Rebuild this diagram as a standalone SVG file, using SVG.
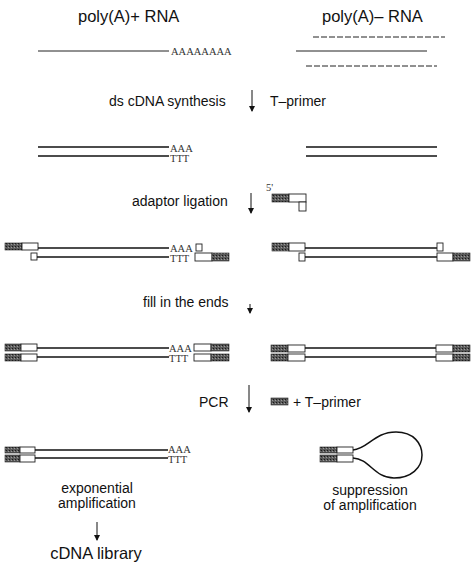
<svg xmlns="http://www.w3.org/2000/svg" width="474" height="566" viewBox="0 0 474 566">
<defs>
<pattern id="hatch" width="3" height="3" patternUnits="userSpaceOnUse">
<rect width="3" height="3" fill="#5a5a5a"/>
<rect width="1" height="1" fill="#1a1a1a"/>
<rect x="2" y="1" width="1" height="1" fill="#999"/>
</pattern>
<marker id="ah" markerWidth="6" markerHeight="6" refX="5" refY="3" orient="auto" markerUnits="userSpaceOnUse" viewBox="0 0 6 6">
<path d="M0,0 L6,3 L0,6 z" fill="#111"/>
</marker>
</defs>
<style>
.h{font-family:"Liberation Sans",Arial,sans-serif;font-size:16.5px;fill:#111}
.t{font-family:"Liberation Sans",Arial,sans-serif;font-size:14px;fill:#111}
.s{font-family:"Liberation Serif","Times New Roman",serif;font-size:10.5px;fill:#333}
.ln{stroke:#111;stroke-width:1.5;fill:none}
.th{stroke:#222;stroke-width:1;fill:none}
.dk{fill:url(#hatch);stroke:#222;stroke-width:0.6}
.wh{fill:#fff;stroke:#222;stroke-width:0.9}
.ar{stroke:#111;stroke-width:1;fill:none;marker-end:url(#ah)}
</style>
<rect width="474" height="566" fill="#fff"/>

<g id="titles">
<text class="h" x="78" y="22">poly(A)+ RNA</text>
<text class="h" x="322" y="22">poly(A)– RNA</text>
</g>

<g id="rna">
<line class="th" x1="38" y1="51" x2="169" y2="51"/>
<text class="s" x="171" y="55">AAAAAAAA</text>
<line class="th" x1="313" y1="37" x2="445" y2="37" stroke-dasharray="6 2"/>
<line class="th" x1="296" y1="51" x2="427" y2="51"/>
<line class="th" x1="306" y1="66" x2="437" y2="66" stroke-dasharray="6 2"/>
</g>

<g id="step1">
<text class="t" x="109" y="106">ds cDNA synthesis</text>
<text class="t" x="270" y="106">T–primer</text>
</g>

<g id="ds">
<line class="ln" x1="38" y1="147" x2="169" y2="147"/>
<line class="ln" x1="38" y1="156" x2="169" y2="156"/>
<text class="s" x="170" y="152">AAA</text>
<text class="s" x="170" y="162">TTT</text>
<line class="ln" x1="306" y1="147" x2="437" y2="147"/>
<line class="ln" x1="306" y1="156" x2="437" y2="156"/>
</g>

<g id="step2">
<text class="t" x="132" y="206">adaptor ligation</text>
<text class="s" x="266" y="191" font-size="11">5'</text>
<rect class="dk" x="272" y="194" width="17" height="8"/>
<rect class="wh" x="289" y="194" width="17" height="8"/>
<rect class="wh" x="299" y="202" width="7" height="9"/>
</g>

<g id="ligated">
<rect class="dk" x="5" y="243" width="17" height="7"/>
<rect class="wh" x="22" y="243" width="16" height="7"/>
<rect class="wh" x="31" y="253" width="6" height="7"/>
<line class="ln" x1="38" y1="248" x2="169" y2="248"/>
<line class="ln" x1="37" y1="257" x2="169" y2="257"/>
<text class="s" x="170" y="252">AAA</text>
<text class="s" x="170" y="262">TTT</text>
<rect class="wh" x="196" y="244" width="6" height="7"/>
<rect class="wh" x="195" y="253" width="17" height="8"/>
<rect class="dk" x="212" y="253" width="17" height="8"/>

<rect class="dk" x="272" y="243" width="17" height="8"/>
<rect class="wh" x="289" y="243" width="16" height="8"/>
<rect class="wh" x="299" y="253" width="6" height="8"/>
<line class="ln" x1="305" y1="248" x2="437" y2="248"/>
<line class="ln" x1="305" y1="257" x2="437" y2="257"/>
<rect class="wh" x="437" y="243" width="6" height="8"/>
<rect class="wh" x="437" y="253" width="16" height="8"/>
<rect class="dk" x="453" y="253" width="17" height="8"/>
</g>

<g id="step3">
<text class="t" x="143" y="307">fill in the ends</text>
</g>

<g id="filled">
<rect class="dk" x="5" y="344" width="16" height="7"/>
<rect class="wh" x="21" y="344" width="16" height="7"/>
<rect class="dk" x="5" y="354" width="16" height="7"/>
<rect class="wh" x="21" y="354" width="16" height="7"/>
<line class="ln" x1="37" y1="348" x2="169" y2="348"/>
<line class="ln" x1="37" y1="357" x2="169" y2="357"/>
<text class="s" x="169" y="352">AAA</text>
<text class="s" x="169" y="362">TTT</text>
<rect class="wh" x="194" y="344" width="17" height="7"/>
<rect class="dk" x="211" y="344" width="18" height="7"/>
<rect class="wh" x="194" y="354" width="17" height="7"/>
<rect class="dk" x="211" y="354" width="18" height="7"/>

<rect class="dk" x="271" y="345" width="17" height="7"/>
<rect class="wh" x="288" y="345" width="17" height="7"/>
<rect class="dk" x="271" y="354" width="17" height="7"/>
<rect class="wh" x="288" y="354" width="17" height="7"/>
<line class="ln" x1="305" y1="348" x2="436" y2="348"/>
<line class="ln" x1="305" y1="357" x2="436" y2="357"/>
<rect class="wh" x="436" y="345" width="17" height="7"/>
<rect class="dk" x="453" y="345" width="17" height="7"/>
<rect class="wh" x="436" y="354" width="17" height="7"/>
<rect class="dk" x="453" y="354" width="17" height="7"/>
</g>

<g id="step4">
<text class="t" x="199" y="407">PCR</text>
<rect class="dk" x="271" y="398" width="17" height="7"/>
<text class="t" x="293" y="407">+ T–primer</text>
</g>

<g id="amplified">
<rect class="dk" x="5" y="447" width="15" height="6"/>
<rect class="wh" x="20" y="447" width="15" height="6"/>
<rect class="dk" x="5" y="455" width="15" height="7"/>
<rect class="wh" x="20" y="455" width="15" height="7"/>
<line class="ln" x1="35" y1="450" x2="168" y2="450"/>
<line class="ln" x1="35" y1="458" x2="168" y2="458"/>
<text class="s" x="168" y="453">AAA</text>
<text class="s" x="168" y="463">TTT</text>
<text class="t" x="97" y="493" text-anchor="middle">exponential</text>
<text class="t" x="97" y="508" text-anchor="middle">amplification</text>
<text class="h" x="96" y="559" text-anchor="middle">cDNA library</text>
</g>

<g id="suppressed">
<rect class="dk" x="320" y="447" width="17" height="6"/>
<rect class="wh" x="337" y="447" width="16" height="6"/>
<rect class="dk" x="320" y="455" width="17" height="7"/>
<rect class="wh" x="337" y="455" width="16" height="7"/>
<path class="ln" d="M353,450 C368,449 374,432 396,432 C414,432 422,444 422,455 C422,468 411,478 394,478 C374,478 370,459 353,458"/>
<text class="t" x="370" y="495" text-anchor="middle">suppression</text>
<text class="t" x="370" y="510" text-anchor="middle">of amplification</text>
</g>

<g id="connectors">
<line class="ar" x1="252" y1="90" x2="252" y2="111"/>
<line class="ar" x1="251" y1="193" x2="251" y2="213"/>
<line class="ar" x1="250" y1="304" x2="250" y2="313"/>
<line class="ar" x1="249" y1="385" x2="249" y2="412"/>
<line class="ar" x1="97" y1="522" x2="97" y2="540"/>
</g>
</svg>
